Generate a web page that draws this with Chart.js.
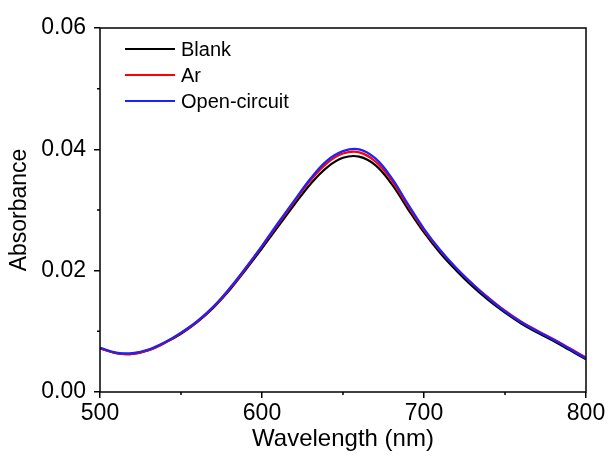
<!DOCTYPE html>
<html>
<head>
<meta charset="utf-8">
<script src="https://cdn.jsdelivr.net/npm/chart.js@4.4.0/dist/chart.umd.min.js"></script>
<style>
  html, body { margin: 0; padding: 0; background: #fff; }
  #wrap { width: 610px; height: 464px; }
</style>
</head>
<body>
<div id="wrap"><canvas id="absorbance-chart" width="610" height="464"></canvas></div>
<script>
const wavelengths = [500, 510, 520, 530, 540, 550, 560, 570, 580, 590, 600, 610, 620, 630, 640, 650,
    660, 670, 680, 690, 700, 710, 720, 730, 740, 750, 760, 770, 780, 790, 800];

const blank = [0.0072, 0.0064, 0.0063, 0.0069, 0.0081, 0.0096, 0.0115, 0.0139, 0.0168, 0.0202, 0.0237,
    0.0273, 0.0309, 0.0343, 0.0370, 0.0386, 0.0388, 0.0374, 0.0343, 0.0302, 0.0263, 0.0229, 0.0200,
    0.0174, 0.0151, 0.0131, 0.0113, 0.0098, 0.0084, 0.0069, 0.0054];

const ar = [0.0072, 0.0064, 0.0063, 0.0069, 0.0081, 0.0097, 0.0116, 0.0140, 0.0170, 0.0204, 0.0240,
    0.0277, 0.0314, 0.0349, 0.0377, 0.0393, 0.0395, 0.0380, 0.0349, 0.0307, 0.0267, 0.0233, 0.0204,
    0.0178, 0.0155, 0.0134, 0.0116, 0.0101, 0.0087, 0.0072, 0.0057];

const openCircuit = [0.0073, 0.0065, 0.0064, 0.0070, 0.0082, 0.0098, 0.0117, 0.0141, 0.0171, 0.0205, 0.0241,
    0.0279, 0.0316, 0.0352, 0.0381, 0.0397, 0.0400, 0.0385, 0.0353, 0.0310, 0.0269, 0.0234, 0.0204,
    0.0178, 0.0154, 0.0133, 0.0115, 0.0100, 0.0086, 0.0071, 0.0055];

const seriesNames = ['Blank', 'Ar', 'Open-circuit'];
const seriesColors = ['#000000', '#ff0000', '#2020ff'];

const xTicks = [500, 600, 700, 800];
const xMinorTicks = [550, 650, 750];
const yTicks = [0.00, 0.02, 0.04, 0.06];
const yMinorTicks = [0.01, 0.03, 0.05];

const FONT = 'Liberation Sans, Arial, sans-serif';

function toPoints(values) {
    return values.map((v, i) => ({ x: wavelengths[i], y: v }));
}

// frame, minor ticks and the in-plot legend
const framePlugin = {
    id: 'frame',
    afterDraw(chart) {
        const ctx = chart.ctx;
        const area = chart.chartArea;
        const xs = chart.scales.x;
        const ys = chart.scales.y;
        ctx.save();
        ctx.strokeStyle = '#000';
        ctx.lineWidth = 1.5;
        ctx.strokeRect(area.left, area.top, area.right - area.left, area.bottom - area.top);

        ctx.beginPath();
        xMinorTicks.forEach(v => {
            const px = xs.getPixelForValue(v);
            ctx.moveTo(px, area.bottom);
            ctx.lineTo(px, area.bottom + 3);
        });
        yMinorTicks.forEach(v => {
            const py = ys.getPixelForValue(v);
            ctx.moveTo(area.left, py);
            ctx.lineTo(area.left - 3, py);
        });
        ctx.stroke();

        // legend
        ctx.font = '20px ' + FONT;
        ctx.textBaseline = 'middle';
        ctx.textAlign = 'left';
        chart.data.datasets.forEach((ds, i) => {
            const y = area.top + 21 + i * 26;
            ctx.strokeStyle = ds.borderColor;
            ctx.lineWidth = 2;
            ctx.beginPath();
            ctx.moveTo(area.left + 25, y);
            ctx.lineTo(area.left + 75, y);
            ctx.stroke();
            ctx.fillStyle = '#000';
            ctx.fillText(ds.label, area.left + 81, y + 1);
        });
        ctx.restore();
    }
};

const ctx = document.getElementById('absorbance-chart').getContext('2d');

const absorbanceChart = new Chart(ctx, {
    type: 'line',
    data: {
        datasets: [
            { label: seriesNames[0], data: toPoints(blank), borderColor: seriesColors[0], order: 3 },
            { label: seriesNames[1], data: toPoints(ar), borderColor: seriesColors[1], order: 2 },
            { label: seriesNames[2], data: toPoints(openCircuit), borderColor: seriesColors[2], order: 1 }
        ]
    },
    options: {
        responsive: false,
        animation: false,
        events: [],
        layout: { padding: { left: 0, right: 24, top: 28, bottom: 0 } },
        elements: {
            point: { radius: 0 },
            line: { borderWidth: 2.2, tension: 0.4, fill: false }
        },
        plugins: {
            legend: { display: false },
            tooltip: { enabled: false }
        },
        scales: {
            x: {
                type: 'linear',
                min: 500,
                max: 800,
                afterFit(scale) { scale.height = 72; },
                afterBuildTicks(scale) { scale.ticks = xTicks.map(v => ({ value: v })); },
                border: { display: false },
                grid: { drawOnChartArea: false, tickLength: 6, color: '#000', lineWidth: 1.5 },
                ticks: {
                    color: '#000',
                    padding: 2,
                    font: { family: FONT, size: 23 },
                    maxRotation: 0
                },
                title: {
                    display: true,
                    text: 'Wavelength (nm)',
                    color: '#000',
                    font: { family: FONT, size: 24 },
                    padding: { top: 0, bottom: 10 }
                }
            },
            y: {
                type: 'linear',
                min: 0,
                max: 0.06,
                afterFit(scale) { scale.width = 100; },
                afterBuildTicks(scale) { scale.ticks = yTicks.map(v => ({ value: v })); },
                border: { display: false },
                grid: { drawOnChartArea: false, tickLength: 6, color: '#000', lineWidth: 1.5 },
                ticks: {
                    color: '#000',
                    padding: 8,
                    font: { family: FONT, size: 23 },
                    callback: v => v.toFixed(2)
                },
                title: {
                    display: true,
                    text: 'Absorbance',
                    color: '#000',
                    font: { family: FONT, size: 23 },
                    padding: { top: 6, bottom: 0 }
                }
            }
        }
    },
    plugins: [framePlugin]
});
</script>
</body>
</html>
